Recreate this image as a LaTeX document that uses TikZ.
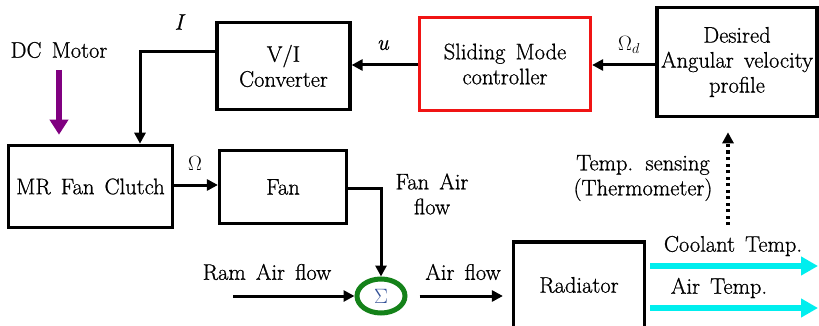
\documentclass[tikz,border=0pt]{standalone}
\usepackage{fontspec}
\newfontfamily\diagfont{Latin Modern Roman}[FakeBold=0.8, ItalicFeatures={FakeBold=0.8}]
\usetikzlibrary{arrows.meta,shapes.geometric}
\definecolor{sumgreen}{RGB}{20,130,25}
\definecolor{sigblue}{RGB}{50,80,150}
\definecolor{cyanarr}{RGB}{0,238,238}
\definecolor{motorpurple}{RGB}{128,0,128}
\definecolor{smcred}{RGB}{240,20,20}
\newcommand\diagsize{\diagfont\fontsize{22.5}{25}\selectfont\spaceskip=0.45em\relax}
\begin{document}
\begin{tikzpicture}[x=1pt,y=-1pt,
  every node/.style={font=\diagsize},
  blk/.style={draw, line width=3.2pt, align=center, inner sep=0pt},
  arr/.style={line width=3pt, -{Triangle[length=11pt,width=11pt]}},
  lbl/.style={inner sep=0pt, align=center}]
\useasboundingbox (0,0) rectangle (819,326);
% blocks
\node[blk, minimum width=133pt, minimum height=87pt] (vi) at (283.5,66) {V/I\\Converter};
\node[blk, draw=smcred, minimum width=171pt, minimum height=93pt] (smc) at (505,64) {Sliding Mode\\controller};
\node[blk, line width=3.6pt, minimum width=160pt, minimum height=109pt] (des) at (737,62) {Desired\\Angular velocity\\profile};
\node[blk, line width=3.6pt, minimum width=164pt, minimum height=82pt] (mr) at (90.5,186.5) {MR Fan Clutch};
\node[blk, minimum width=127pt, minimum height=73pt] (fan) at (283,187) {Fan};
\node[blk, minimum width=131pt, minimum height=86pt] (rad) at (579,285) {Radiator};
\node[ellipse, draw=sumgreen, line width=5pt, minimum width=48pt, minimum height=34pt, inner sep=0pt,
      text=sigblue, font=\fontsize{21}{21}\selectfont] (sum) at (381,296) {$\Sigma$};
% free-end coordinates
\coordinate (dcm) at (59,70);
\coordinate (ram) at (233,296);
\coordinate (tsense) at (728,225);
\coordinate (cool) at (818,266);
\coordinate (airt) at (818,308);
% labels
\node[lbl] (ldc) at (59,50) {DC Motor};
\node[lbl] (lI) at (180,22) {\textit{I}};
\node[lbl] (lu) at (383,45) {\textit{u}};
\node[lbl] (lOd) at (629,45) {$\Omega_d$};
\node[lbl] (lO) at (195,163) {$\Omega$};
\node[lbl] (lfa) at (432,194) {Fan Air\\flow};
\node[lbl] (lram) at (267,272) {Ram Air flow};
\node[lbl] (laf) at (463,272) {Air flow};
\node[lbl] (lts) at (643,178) {Temp. sensing\\(Thermometer)};
\node[lbl] (lct) at (733,246) {Coolant Temp.};
\node[lbl] (lat) at (719,288) {Air Temp.};
% connectors
\draw[line width=6pt, draw=motorpurple, -{Triangle[length=15pt,width=18pt]}, shorten >=9pt] (dcm) -- (mr.north -| dcm);
\draw[arr] ([yshift=14pt]vi.west) -| ([xshift=49.5pt]mr.north);
\draw[arr] (smc.west |- 0,65) -- (vi.east |- 0,65);
\draw[arr] (des.west |- 0,65) -- (smc.east |- 0,65);
\draw[arr] (mr.east |- 0,185) -- (fan.west |- 0,185);
\draw[arr] (fan.east |- 0,188) -| (sum.north);
\draw[arr] (ram) -- (sum.west);
\draw[arr, shorten <=12pt, shorten >=9pt] (sum.east) -- (sum.east -| rad.west);
\draw[line width=3.5pt, dash pattern=on 3pt off 3.5pt, -{Triangle[length=11pt,width=11pt]}, shorten >=14pt] (tsense) -- (tsense |- des.south);
\draw[line width=6pt, draw=cyanarr, -{Triangle[length=17pt,width=18pt]}, shorten <=4pt] (rad.east |- cool) -- (cool);
\draw[line width=6pt, draw=cyanarr, -{Triangle[length=17pt,width=18pt]}, shorten <=4pt] (rad.east |- airt) -- (airt);
\end{tikzpicture}
\end{document}
